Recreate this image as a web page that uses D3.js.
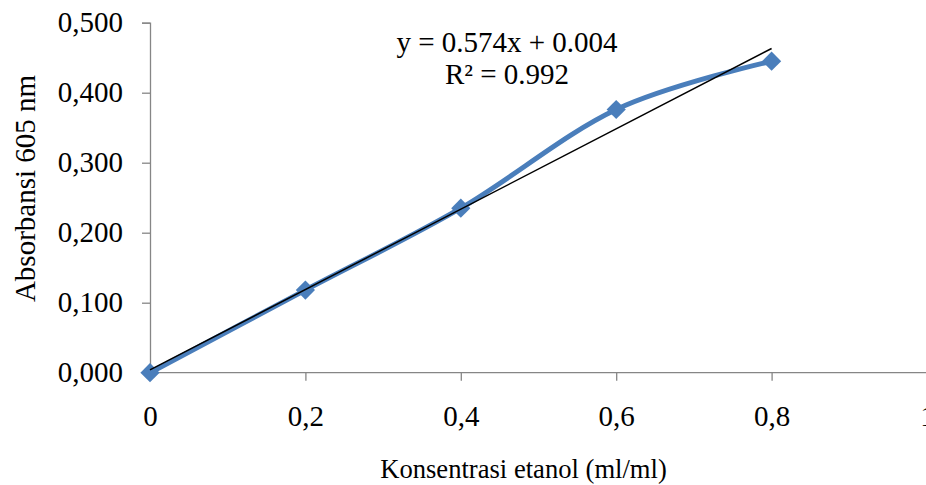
<!DOCTYPE html>
<html>
<head>
<meta charset="utf-8">
<script src="https://cdn.jsdelivr.net/npm/d3@7"></script>
<style>
  body { margin: 0; background: #fff; }
  svg { display: block; font-family: "Liberation Serif", "Times New Roman", serif; }
</style>
</head>
<body>
<svg width="926" height="485"></svg>
<script>
// data
var konsentrasi = [0, 0.2, 0.4, 0.6, 0.8]
var absorbansi = [0.000, 0.118, 0.235, 0.376, 0.445]
var xTicks = [0, 0.2, 0.4, 0.6, 0.8, 1]
var yTicks = [0, 0.1, 0.2, 0.3, 0.4, 0.5]
var trendSlope = 0.574
var trendIntercept = 0.004
var eqLines = ["y = 0.574x + 0.004", "R\u00b2 = 0.992"]

var margin = {top: 22.7, right: 0, bottom: 112, left: 150}
var width = 927 - margin.left
var height = 372.7 - margin.top

var svg = d3.select("svg")

var x = d3.scaleLinear().domain([0, 1]).range([margin.left, margin.left + width])
var y = d3.scaleLinear().domain([0, 0.5]).range([margin.top + height, margin.top])

var comma = function(d, f) { return d3.format(f)(d).replace(".", ",") }

// y as
var yAxis = svg.append("g")
    .attr("transform", "translate(" + x(0) + ",0)")
    .call(d3.axisLeft(y).tickValues(yTicks).tickSize(8).tickPadding(19)
      .tickFormat(function(d) { return comma(d, ".3f") }))
yAxis.selectAll("line, path").attr("stroke", "#868686").attr("stroke-width", 1.3)
yAxis.selectAll("text").attr("font-size", 29).attr("fill", "#000")
  .attr("font-family", "Liberation Serif")

// x as
var xAxis = svg.append("g")
    .attr("transform", "translate(0," + y(0) + ")")
    .call(d3.axisBottom(x).tickValues(xTicks).tickSize(8).tickPadding(25)
      .tickFormat(function(d) { return d === 0 || d === 1 ? String(d) : comma(d, ".1f") }))
xAxis.select(".domain").attr("d", "M" + x(0) + ",0H" + x(1))
xAxis.selectAll("line, path").attr("stroke", "#868686").attr("stroke-width", 1.3)
xAxis.selectAll("text").attr("font-size", 29).attr("fill", "#000")
  .attr("font-family", "Liberation Serif")

// titels
svg.append("text")
  .attr("x", 523.5).attr("y", 478)
  .attr("text-anchor", "middle")
  .attr("font-size", 26.6)
  .text("Konsentrasi etanol (ml/ml)")

svg.append("text")
  .attr("transform", "translate(35,188.5) rotate(-90)")
  .attr("text-anchor", "middle")
  .attr("font-size", 29)
  .text("Absorbansi 605 nm")

var data = konsentrasi.map(function(k, i) { return {k: k, a: absorbansi[i]} })

// gladde lijn
var line = d3.line()
  .x(function(d) { return x(d.k) })
  .y(function(d) { return y(d.a) })
  .curve(d3.curveCardinal.tension(0))

svg.append("path")
  .datum(data)
  .attr("d", line)
  .attr("fill", "none")
  .attr("stroke", "#4a7ebb")
  .attr("stroke-width", 5)

// markers
svg.selectAll(".marker")
  .data(data)
  .enter().append("path")
  .attr("class", "marker")
  .attr("d", d3.symbol().type(d3.symbolDiamond2).size(235))
  .attr("transform", function(d) { return "translate(" + x(d.k) + "," + y(d.a) + ")" })
  .attr("fill", "#4a7ebb")

// trendlijn
var xMin = d3.min(konsentrasi), xMax = d3.max(konsentrasi)
svg.append("line")
  .attr("x1", x(xMin)).attr("y1", y(trendSlope * xMin + trendIntercept))
  .attr("x2", x(xMax)).attr("y2", y(trendSlope * xMax + trendIntercept))
  .attr("stroke", "#000")
  .attr("stroke-width", 1.5)

// vergelijking
svg.selectAll(".eq")
  .data(eqLines)
  .enter().append("text")
  .attr("class", "eq")
  .attr("x", 507)
  .attr("y", function(d, i) { return 52 + i * 32 })
  .attr("text-anchor", "middle")
  .attr("font-size", 29)
  .attr("font-family", "Liberation Serif")
  .text(function(d) { return d })
</script>
</body>
</html>
